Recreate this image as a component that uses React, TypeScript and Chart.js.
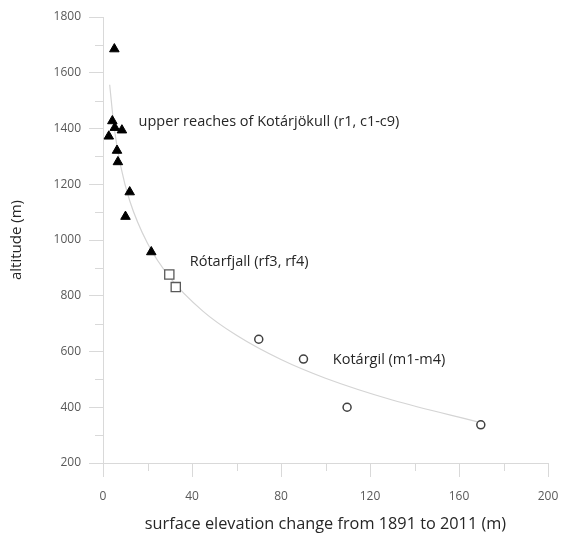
import React, { useEffect, useRef } from "react";
import { Chart, registerables } from "chart.js";

Chart.register(...registerables);

// Upper reaches of Kotárjökull (r1, c1-c9) — filled triangles
const upperX = [5.1, 4.2, 5.3, 8.5, 2.6, 6.3, 6.7, 12.0, 10.1, 21.7];
const upperY = [1685, 1427, 1403, 1394, 1372, 1321, 1280, 1172, 1084, 957];

// Rótarfjall (rf3, rf4) — open squares
const rotarX = [29.8, 32.7];
const rotarY = [876, 831];

// Kotárgil (m1-m4) — open circles
const kotargilX = [70.0, 90.1, 109.7, 169.8];
const kotargilY = [644, 573, 400, 337];

// Trend line
const trendX = [3, 5, 8, 12, 20, 30, 45, 60, 80, 100, 130, 170];
const trendY = [1557, 1404, 1263, 1141, 988, 866, 744, 658, 571, 504, 426, 345];

// Text labels with their anchors (data units)
const labelTexts = [
  "upper reaches of Kotárjökull (r1, c1-c9)",
  "Rótarfjall (rf3, rf4)",
  "Kotárgil (m1-m4)",
];
const labelX = [16.0, 39.0, 103.3];
const labelY = [1424, 922, 570];

const xMajorTicks = [0, 40, 80, 120, 160, 200];
const xMinorTicks = [20, 60, 100, 140, 180];
const yMajorTicks = [200, 400, 600, 800, 1000, 1200, 1400, 1600, 1800];
const yMinorTicks = [300, 500, 700, 900, 1100, 1300, 1500, 1700];

const FONT = "'Open Sans', 'DejaVu Sans', sans-serif";
const AXIS_COLOR = "#d9d9d9";

const pts = (xs: number[], ys: number[]) => xs.map((x, i) => ({ x, y: ys[i] }));

export default function App() {
  const ref = useRef<HTMLCanvasElement | null>(null);

  useEffect(() => {
    document.body.style.margin = "0";
    const canvas = ref.current;
    if (!canvas) return;

    const extras = {
      id: "extras",
      afterDraw(chart: any) {
        const { ctx, chartArea, scales } = chart;
        const xs = scales.x;
        const ys = scales.y;
        ctx.save();
        ctx.strokeStyle = AXIS_COLOR;
        ctx.lineWidth = 1;
        ctx.beginPath();
        yMinorTicks.forEach((v) => {
          const py = Math.round(ys.getPixelForValue(v)) + 0.5;
          ctx.moveTo(chartArea.left - 8, py);
          ctx.lineTo(chartArea.left, py);
        });
        xMinorTicks.forEach((v) => {
          const px = Math.round(xs.getPixelForValue(v)) + 0.5;
          ctx.moveTo(px, chartArea.bottom);
          ctx.lineTo(px, chartArea.bottom + 8);
        });
        ctx.stroke();

        ctx.fillStyle = "#262626";
        ctx.font = `14.5px ${FONT}`;
        ctx.textAlign = "left";
        ctx.textBaseline = "middle";
        labelTexts.forEach((t, i) => {
          ctx.fillText(t, xs.getPixelForValue(labelX[i]), ys.getPixelForValue(labelY[i]));
        });
        ctx.restore();
      },
    };

    const chart = new Chart(canvas, {
      type: "scatter",
      data: {
        datasets: [
          {
            label: "upper reaches of Kotárjökull",
            data: pts(upperX, upperY),
            pointStyle: "triangle",
            pointRadius: 5.5,
            backgroundColor: "#000000",
            borderColor: "#000000",
            borderWidth: 1,
          },
          {
            label: "Rótarfjall",
            data: pts(rotarX, rotarY),
            pointStyle: "rect",
            pointRadius: 6.5,
            backgroundColor: "#ffffff",
            borderColor: "#595959",
            borderWidth: 1.3,
          },
          {
            label: "Kotárgil",
            data: pts(kotargilX, kotargilY),
            pointStyle: "circle",
            pointRadius: 4,
            backgroundColor: "#ffffff",
            borderColor: "#404040",
            borderWidth: 1.5,
          },
          {
            label: "trend",
            data: pts(trendX, trendY),
            showLine: true,
            pointRadius: 0,
            borderColor: "#d4d4d4",
            borderWidth: 1.2,
            cubicInterpolationMode: "monotone",
            fill: false,
          } as any,
        ],
      },
      options: {
        animation: false,
        responsive: true,
        maintainAspectRatio: false,
        layout: { padding: { left: 8, top: 17, right: 13, bottom: 5 } },
        plugins: {
          legend: { display: false },
          tooltip: { enabled: false },
        },
        scales: {
          x: {
            type: "linear",
            min: 0,
            max: 200,
            afterFit: (s: any) => {
              s.height = 71;
              s.paddingRight = 0;
              s.paddingLeft = 0;
            },
            afterBuildTicks: (s: any) => {
              s.ticks = xMajorTicks.map((v) => ({ value: v }));
            },
            border: { color: AXIS_COLOR, width: 1 },
            grid: {
              drawOnChartArea: false,
              drawTicks: true,
              tickLength: 14,
              color: AXIS_COLOR,
              tickColor: AXIS_COLOR,
            },
            ticks: {
              color: "#595959",
              font: { family: FONT, size: 12 },
              padding: 12,
              maxRotation: 0,
              callback: (v: any) => String(v),
            },
            title: {
              display: true,
              text: "surface elevation change from 1891 to 2011 (m)",
              color: "#262626",
              font: { family: FONT, size: 16.3 },
              padding: { top: 0, bottom: 0 },
            },
          },
          y: {
            type: "linear",
            min: 200,
            max: 1800,
            afterFit: (s: any) => {
              s.width = 95;
              s.paddingTop = 0;
              s.paddingBottom = 0;
            },
            afterBuildTicks: (s: any) => {
              s.ticks = yMajorTicks.map((v) => ({ value: v }));
            },
            border: { color: AXIS_COLOR, width: 1 },
            grid: {
              drawOnChartArea: false,
              drawTicks: true,
              tickLength: 14,
              color: AXIS_COLOR,
              tickColor: AXIS_COLOR,
            },
            ticks: {
              color: "#595959",
              font: { family: FONT, size: 12 },
              padding: 8,
              callback: (v: any) => String(v),
            },
            title: {
              display: true,
              text: "altitude (m)",
              color: "#262626",
              font: { family: FONT, size: 15 },
              padding: { top: 0, bottom: 0 },
            },
          },
        },
      },
      plugins: [extras],
    });

    return () => chart.destroy();
  }, []);

  return (
    <div style={{ position: "relative", width: 561, height: 539 }}>
      <canvas ref={ref} />
    </div>
  );
}
